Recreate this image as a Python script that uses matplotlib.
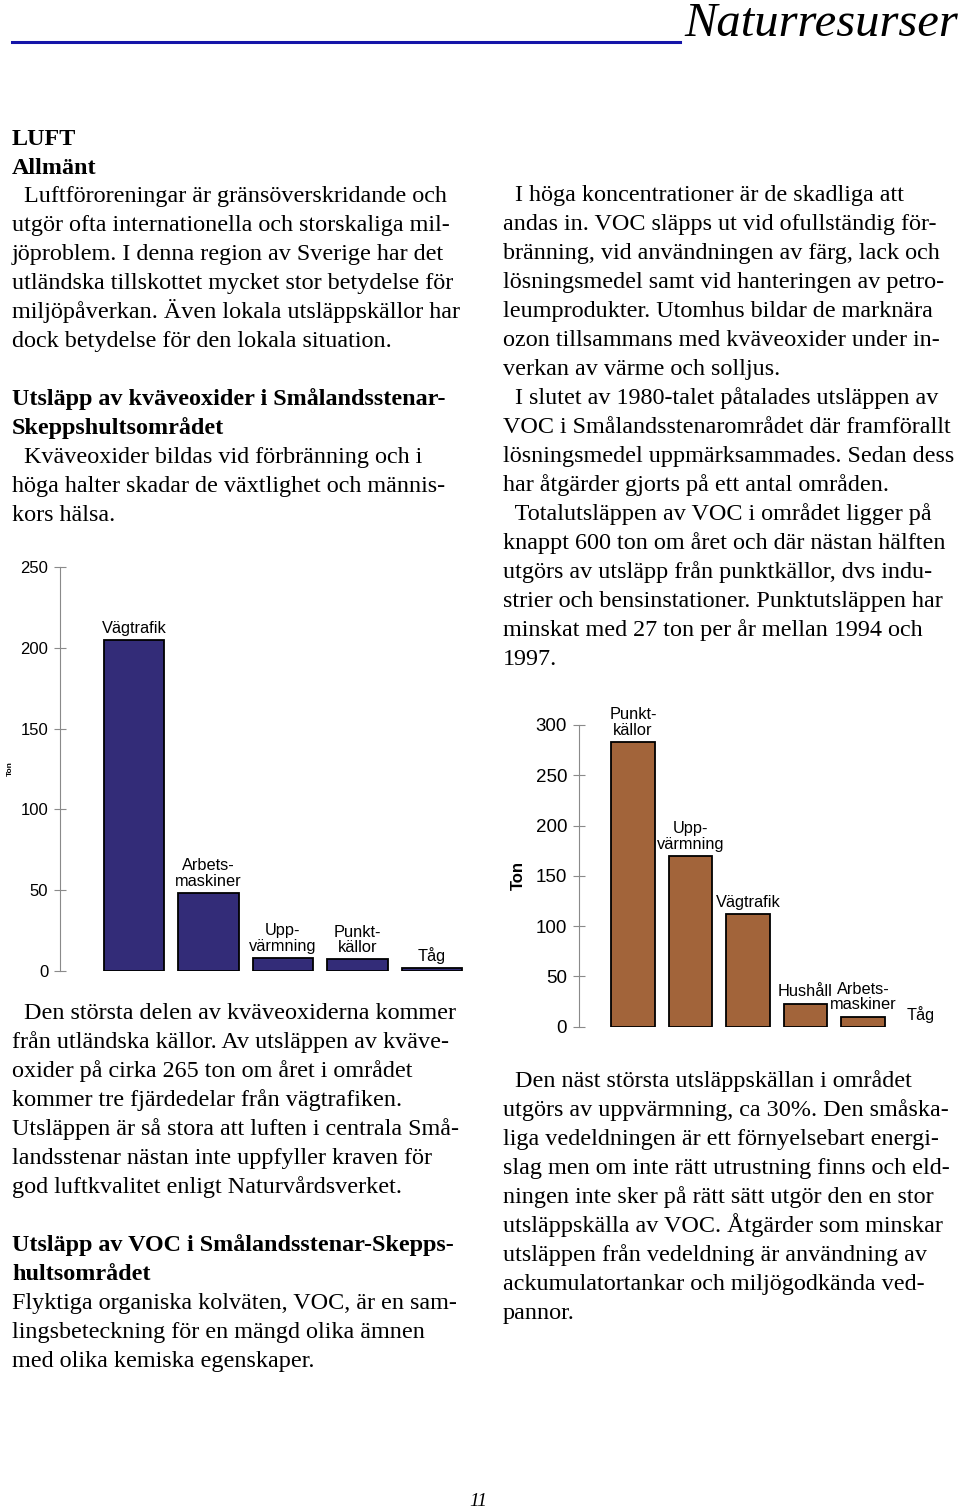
import matplotlib.pyplot as plt

# Chart data
nox_sources = ["Vägtrafik", "Arbets-\nmaskiner", "Upp-\nvärmning", "Punkt-\nkällor", "Tåg"]
nox_tons = [205, 48, 8, 7, 1.5]
nox_ticks = [0, 50, 100, 150, 200, 250]

voc_sources = ["Punkt-\nkällor", "Upp-\nvärmning", "Vägtrafik", "Hushåll", "Arbets-\nmaskiner", "Tåg"]
voc_tons = [283, 170, 112, 23, 10, 0]
voc_ticks = [0, 50, 100, 150, 200, 250, 300]

# Page text, one entry per printed line
left_top = ["  Luftföroreningar är gränsöverskridande och",
            "utgör ofta internationella och storskaliga mil-",
            "jöproblem. I denna region av Sverige har det",
            "utländska tillskottet mycket stor betydelse för",
            "miljöpåverkan. Även lokala utsläppskällor har",
            "dock betydelse för den lokala situation."]
nox_head = ["Utsläpp av kväveoxider i Smålandsstenar-", "Skeppshultsområdet"]
nox_intro = ["  Kväveoxider bildas vid förbränning och i",
             "höga halter skadar de växtlighet och männis-",
             "kors hälsa."]
left_bottom = ["  Den största delen av kväveoxiderna kommer",
               "från utländska källor. Av utsläppen av kväve-",
               "oxider på cirka 265 ton om året i området",
               "kommer tre fjärdedelar från vägtrafiken.",
               "Utsläppen är så stora att luften i centrala Små-",
               "landsstenar nästan inte uppfyller kraven för",
               "god luftkvalitet enligt Naturvårdsverket."]
voc_head = ["Utsläpp av VOC i Smålandsstenar-Skepps-", "hultsområdet"]
voc_intro = ["Flyktiga organiska kolväten, VOC, är en sam-",
             "lingsbeteckning för en mängd olika ämnen",
             "med olika kemiska egenskaper."]
right_top = ["  I höga koncentrationer är de skadliga att",
             "andas in. VOC släpps ut vid ofullständig för-",
             "bränning, vid användningen av färg, lack och",
             "lösningsmedel samt vid hanteringen av petro-",
             "leumprodukter. Utomhus bildar de marknära",
             "ozon tillsammans med kväveoxider under in-",
             "verkan av värme och solljus.",
             "  I slutet av 1980-talet påtalades utsläppen av",
             "VOC i Smålandsstenarområdet där framförallt",
             "lösningsmedel uppmärksammades. Sedan dess",
             "har åtgärder gjorts på ett antal områden.",
             "  Totalutsläppen av VOC i området ligger på",
             "knappt 600 ton om året och där nästan hälften",
             "utgörs av utsläpp från punktkällor, dvs indu-",
             "strier och bensinstationer. Punktutsläppen har",
             "minskat med 27 ton per år mellan 1994 och",
             "1997."]
right_bottom = ["  Den näst största utsläppskällan i området",
                "utgörs av uppvärmning, ca 30%. Den småska-",
                "liga vedeldningen är ett förnyelsebart energi-",
                "slag men om inte rätt utrustning finns och eld-",
                "ningen inte sker på rätt sätt utgör den en stor",
                "utsläppskälla av VOC. Åtgärder som minskar",
                "utsläppen från vedeldning är användning av",
                "ackumulatortankar och miljögodkända ved-",
                "pannor."]

W, H = 960, 1510
SERIF = "Liberation Serif"
SANS = "Liberation Sans"
BODY = 17.4
fig = plt.figure(figsize=(W / 100, H / 100), dpi=100)


def put_lines(lines, x, y0, bold=False, step=29):
    # y0 is the baseline of the first line, in page pixels from the top
    for i, line in enumerate(lines):
        fig.text(x / W, 1 - (y0 + i * step) / H, line, family=SERIF, fontsize=BODY,
                 fontweight="bold" if bold else "normal", va="baseline", ha="left")


# Header
fig.text(958 / W, 1 - 36 / H, "Naturresurser", family=SERIF, style="italic",
         fontsize=35, ha="right", va="baseline")
fig.add_artist(plt.Line2D([12 / W, 680 / W], [1 - 42 / H, 1 - 42 / H], color="#1414a8", lw=2.2))

# Left column
put_lines(["LUFT", "Allmänt"], 12, 145, bold=True)
put_lines(left_top, 12, 202)
put_lines(nox_head, 12, 405, bold=True)
put_lines(nox_intro, 12, 463)
put_lines(left_bottom, 12, 1019)
put_lines(voc_head, 12, 1251, bold=True)
put_lines(voc_intro, 12, 1309)

# Right column
put_lines(right_top, 503, 201)
put_lines(right_bottom, 503, 1087)

fig.text(478 / W, 1 - 1506 / H, "11", family=SERIF, style="italic", fontsize=14,
         ha="center", va="baseline")


def bar_panel(rect, labels, values, ticks, ylim, xlim, width, color, tick_size, label_size, ton_size, ton_x):
    left, top, right, bottom = rect
    ax = fig.add_axes([left / W, 1 - bottom / H, (right - left) / W, (bottom - top) / H])
    xs = range(len(values))
    ax.bar(xs, values, width=width, color=color, edgecolor="black",
           linewidth=[1.3 if v > 0 else 0 for v in values])
    for x, v, lab in zip(xs, values, labels):
        ax.annotate(lab, (x, v), xytext=(0, 3), textcoords="offset points", ha="center",
                    va="bottom", family=SANS, fontsize=label_size, linespacing=1.05,
                    annotation_clip=False)
    ax.set_xlim(*xlim)
    ax.set_ylim(*ylim)
    ax.set_yticks(ticks)
    ax.set_xticks([])
    for side in ["top", "right", "bottom"]:
        ax.spines[side].set_visible(False)
    ax.spines["left"].set_color("#8a8a8a")
    ax.tick_params(axis="y", direction="inout", length=9, color="#8a8a8a", pad=4,
                   labelsize=tick_size)
    for t in ax.get_yticklabels():
        t.set_family(SANS)
    ax.patch.set_alpha(0)
    fig.text(ton_x / W, 1 - (top + bottom) / 2 / H, "Ton", family=SANS, fontweight="bold",
             fontsize=ton_size, rotation=90, ha="center", va="center")
    return ax


# Kväveoxider
bar_panel((60, 567.3, 470, 970.7), nox_sources, nox_tons, nox_ticks, (0, 250),
          (-0.99, 4.51), 0.81, "#332c78", 12, 11.8, 6, 10)

# VOC
bar_panel((579, 725, 940, 1026.7), voc_sources, voc_tons, voc_ticks, (0, 300),
          (-0.94, 5.34), 0.75, "#a2643a", 13.5, 11.8, 12, 518)

fig.savefig("out.png", dpi=100)
